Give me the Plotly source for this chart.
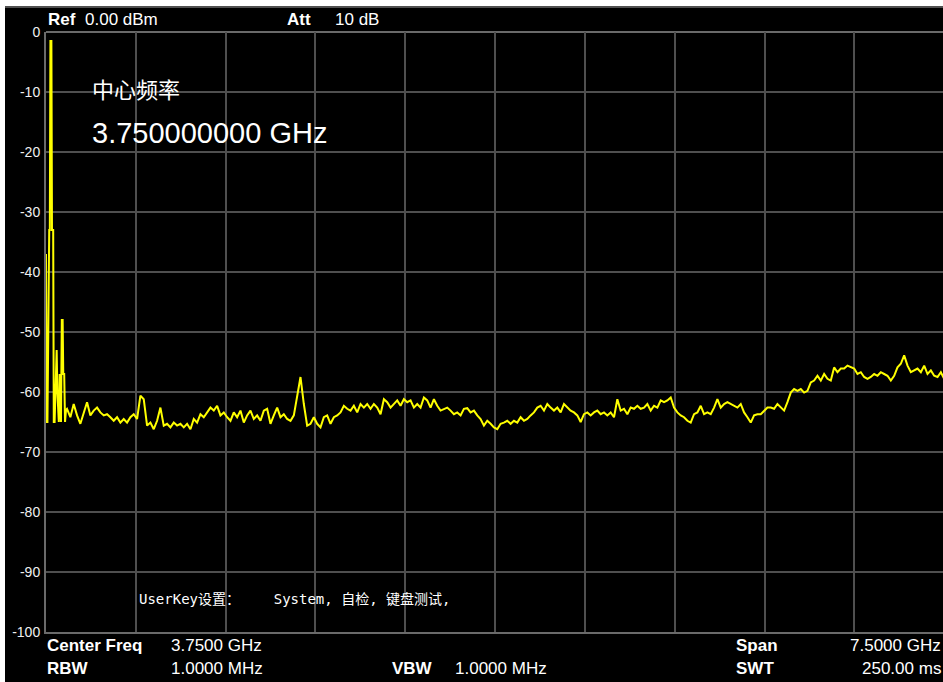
import numpy as np
import plotly.graph_objects as go

# ---------------- data ----------------
# low-frequency spur cluster (GHz, dBm)
spur_freq_ghz = [0.000, 0.005, 0.012, 0.017, 0.023, 0.027, 0.032, 0.037, 0.045, 0.050,
                 0.060, 0.065, 0.072, 0.077, 0.084, 0.089, 0.095, 0.102, 0.107, 0.114,
                 0.120, 0.125, 0.132, 0.139, 0.144, 0.152, 0.159, 0.167]
spur_level_dbm = [-37, -65, -65, -51, -51, -33, -33, -1.5, -1.5, -33,
                  -33, -65, -65, -60, -53, -53, -60, -65, -65, -57,
                  -60, -65, -48, -48, -57, -57, -65, -63]

# sweep of the noise floor from 0.1756 GHz to 7.5 GHz (264 trace points)
sweep_start_ghz = 0.1756
sweep_stop_ghz = 7.5
floor_level_dbm = [
    -62.8, -64.2, -62.0, -63.9, -65.3, -63.4, -61.7, -63.9, -63.1, -62.6,
    -63.4, -63.9, -63.7, -64.2, -64.8, -64.2, -65.1, -64.5, -65.1, -64.2,
    -63.7, -64.5, -60.6, -61.2, -65.6, -65.1, -66.2, -64.8, -62.6, -65.6,
    -65.3, -65.9, -65.1, -65.6, -65.3, -65.9, -65.3, -66.2, -64.5, -65.1,
    -63.7, -64.2, -63.4, -62.6, -63.1, -62.3, -63.9, -63.4, -64.2,
    -64.8, -63.4, -64.2, -63.1, -65.1, -63.9, -63.1, -64.5, -63.9, -64.8,
    -63.1, -62.8, -65.3, -63.9, -62.6, -64.2, -63.7, -64.5, -64.8, -63.9,
    -61.0, -57.5, -62.0, -65.6, -65.3, -64.2, -65.3, -65.9, -64.2, -63.9,
    -65.3, -64.2, -63.9, -63.4, -62.3, -62.8, -63.1, -62.3, -63.4, -62.0,
    -62.6, -62.0, -62.8, -62.0, -62.6, -63.7, -61.2, -61.7, -62.6, -62.0,
    -61.4, -62.3, -61.2, -61.7, -61.4,
    -62.6, -62.0, -62.6, -60.9, -61.4, -62.6, -61.2, -62.3, -63.1, -62.8,
    -62.6, -63.1, -63.7, -63.4, -63.9, -62.8, -62.7, -63.4, -63.1, -63.9,
    -64.5, -65.6, -64.8, -65.3, -65.9, -66.2, -65.3, -65.1, -64.8, -65.3,
    -64.8, -65.1, -64.2, -64.8, -64.5, -63.9, -63.4, -62.6, -62.3, -63.1,
    -62.0, -62.6, -63.1, -62.6, -63.4, -62.0, -62.6, -63.1, -63.4, -63.9,
    -65.0, -63.7, -63.4, -63.9, -63.4, -63.1,
    -63.7, -63.4, -63.9, -63.4, -64.2, -61.2, -63.1, -62.8, -63.7, -62.6,
    -62.8, -62.3, -62.8, -62.6, -62.0, -63.1, -62.3, -62.6, -61.4, -61.7,
    -61.4, -60.9, -62.6, -63.4, -63.9, -64.2, -64.8, -65.1, -63.7, -63.4,
    -62.3, -63.7, -63.4, -63.7, -62.6, -61.2, -62.6, -62.0, -61.7, -62.0,
    -62.3, -62.6, -62.0, -63.4, -64.2, -65.1, -63.9, -63.7, -63.7, -63.1,
    -62.6, -62.6, -62.8, -62.0, -62.6,
    -63.1, -61.7, -60.1, -59.5, -59.8, -59.5, -60.1, -59.8, -58.4, -58.1,
    -57.3, -58.1, -57.0, -57.8, -58.1, -55.9, -56.7, -56.1, -56.1, -55.6,
    -55.9, -56.1, -57.0, -56.7, -57.5, -57.8, -57.5, -57.0, -57.3, -56.7,
    -57.0, -57.3, -58.1, -57.3, -55.9, -55.3, -53.9, -55.6, -56.7, -56.4,
    -56.1, -56.7, -55.6, -57.0, -56.4, -57.3, -57.5, -56.7, -57.8,
]

y_tick_vals = [0, -10, -20, -30, -40, -50, -60, -70, -80, -90, -100]
y_tick_text = ["0", "-10", "-20", "-30", "-40", "-50", "-60", "-70", "-80", "-90", "-100"]

freq_min_ghz, freq_max_ghz = 0.0, 7.49
ref_min_dbm, ref_max_dbm = -100, 0

# ---------------- figure ----------------
floor_freq = np.linspace(sweep_start_ghz, sweep_stop_ghz, len(floor_level_dbm))
freq = list(spur_freq_ghz) + list(floor_freq)
level = list(spur_level_dbm) + list(floor_level_dbm)

W, H = 943, 682
ML, MR, MT, MB = 46, 0, 32, 50
PW, PH = W - ML - MR, H - MT - MB


def px(x):
    return (x - ML) / PW


def py(y):
    return 1 - (y - MT) / PH


fig = go.Figure()
fig.add_trace(go.Scatter(x=freq, y=level, mode="lines",
                         line=dict(color="#ffff00", width=2),
                         hoverinfo="skip", showlegend=False, cliponaxis=True))

grid = "#4f4f4f"
fig.update_layout(
    width=W, height=H,
    margin=dict(l=ML, r=MR, t=MT, b=MB, pad=0),
    paper_bgcolor="#000000", plot_bgcolor="#000000",
    xaxis=dict(range=[freq_min_ghz, freq_max_ghz], dtick=0.75, tick0=0,
               showticklabels=False, ticks="", showgrid=True,
               gridcolor=grid, gridwidth=2, zeroline=False,
               showline=True, linecolor="#6a6a6a", linewidth=2, mirror=False),
    yaxis=dict(range=[ref_min_dbm, ref_max_dbm], tickvals=y_tick_vals,
               ticktext=y_tick_text, ticks="", showgrid=True,
               gridcolor=grid, gridwidth=2, zeroline=False,
               showline=True, linecolor="#6a6a6a", linewidth=2, mirror=False,
               tickfont=dict(family="Liberation Sans, Arial", size=14, color="#f0f0f0"),
               ticklabelstandoff=1),
    showlegend=False,
)

# top border of the graticule
fig.add_shape(type="line", xref="paper", yref="paper", layer="below",
              x0=0, x1=1, y0=1, y1=1, line=dict(color="#6a6a6a", width=2))

# white screenshot border at top and left
fig.add_shape(type="rect", xref="paper", yref="paper", layer="above",
              x0=px(-2), x1=px(W + 2), y0=py(6), y1=py(-2),
              fillcolor="#ffffff", line=dict(width=0))
fig.add_shape(type="rect", xref="paper", yref="paper", layer="above",
              x0=px(-2), x1=px(5), y0=py(H + 2), y1=py(-2),
              fillcolor="#ffffff", line=dict(width=0))
fig.add_shape(type="line", xref="paper", yref="paper", layer="above",
              x0=px(5), x1=px(W + 2), y0=py(7), y1=py(7),
              line=dict(color="#505050", width=2))

INFO = "Liberation Sans, Arial"
CJK = "Noto Sans CJK SC"


def label(text, x, y, size=17, bold=False, anchor="left", family=INFO, color="#ffffff"):
    t = f"<b>{text}</b>" if bold else text
    fig.add_annotation(text=t, x=px(x), y=py(y), xref="paper", yref="paper",
                       xanchor=anchor, yanchor="middle", showarrow=False,
                       font=dict(family=family, size=size, color=color))


# header
label("Ref", 46, 20, bold=True)
label("0.00 dBm", 83, 20)
label("Att", 285, 20, bold=True)
label("10 dB", 333, 20)

# marker text
label("中心频率", 90, 88, size=22, family=CJK)
label("3.750000000 GHz", 90, 133, size=29)

# user key line
label("UserKey设置：\u00a0\u00a0\u00a0\u00a0System,\u00a0自检,\u00a0键盘测试,", 137, 599, size=14,
      family="DejaVu Sans Mono, Noto Sans CJK SC")

# footer
label("Center Freq", 45, 645, bold=True)
label("3.7500 GHz", 169, 645)
label("Span", 734, 645, bold=True)
label("7.5000 GHz", 943, 645, anchor="right")
label("RBW", 45, 668, bold=True)
label("1.0000 MHz", 169, 668)
label("VBW", 390, 668, bold=True)
label("1.0000 MHz", 453, 668)
label("SWT", 734, 668, bold=True)
label("250.00 ms", 943, 668, anchor="right")

fig.write_html("out.html", config={"displayModeBar": False},
               post_script="document.body.style.margin='0px';")
